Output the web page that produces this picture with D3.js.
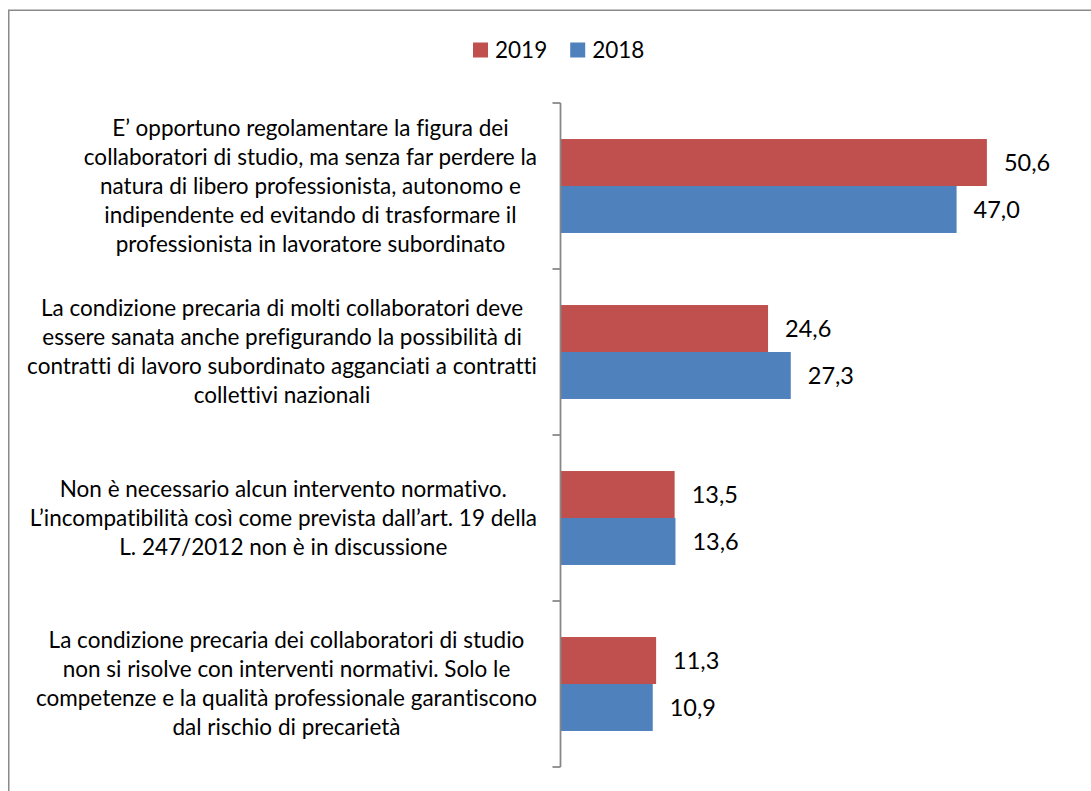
<!DOCTYPE html>
<html>
<head>
<meta charset="utf-8">
<script src="https://cdn.jsdelivr.net/npm/d3@7"></script>
<style>
  body { margin: 0; background: #fff; }
  text { font-family: Lato, "Open Sans", sans-serif; fill: #000; font-variant-ligatures: none; font-feature-settings: "liga" 0, "clig" 0; }
</style>
</head>
<body>
<div id="chart"></div>
<script>
// barre orizzontali 2019 / 2018

const categories = ["c1", "c2", "c3", "c4"];

const labelLines = [
  ["E\u2019 opportuno regolamentare la figura dei",
   "collaboratori di studio, ma senza far perdere la",
   "natura di libero professionista, autonomo e",
   "indipendente ed evitando di trasformare il",
   "professionista in lavoratore subordinato"],
  ["La condizione precaria di molti collaboratori deve",
   "essere sanata anche prefigurando la possibilità di",
   "contratti di lavoro subordinato agganciati a contratti",
   "collettivi nazionali"],
  ["Non è necessario alcun intervento normativo.",
   "L\u2019incompatibilità così come prevista dall\u2019art. 19 della",
   "L. 247/2012 non è in discussione"],
  ["La condizione precaria dei collaboratori di studio",
   "non si risolve con interventi normativi. Solo le",
   "competenze e la qualità professionale garantiscono",
   "dal rischio di precarietà"]
];

const series = ["2019", "2018"];
const values2019 = [50.6, 24.6, 13.5, 11.3];
const values2018 = [47.0, 27.3, 13.6, 10.9];
const colors = ["#C0504D", "#4F81BD"];

var width = 1091;
var height = 791;
var fontSize = 22.5;
var valSize = 23.5;
var lineH = 29;

var svg = d3.select("#chart").append("svg")
    .attr("width", width)
    .attr("height", height);

// cornice (esce dai bordi a destra e in basso)
svg.append("rect")
  .attr("x", 8.75).attr("y", 10.25)
  .attr("width", 1200).attr("height", 1000)
  .attr("fill", "none")
  .attr("stroke", "#8a8a8a")
  .attr("stroke-width", 1.5);

var x = d3.scaleLinear()
    .domain([0, 60])
    .range([561, 1066]);

var y = d3.scaleBand()
    .domain(categories)
    .range([103, 767])
    .paddingInner(0.434)
    .paddingOuter(0.217);

var ys = d3.scaleBand()
    .domain(series)
    .range([0, y.bandwidth()]);

var color = d3.scaleOrdinal().domain(series).range(colors);

var fmt = d3.formatLocale({decimal: ",", thousands: ".", grouping: [3], currency: ["", "€"]}).format(".1f");

var rows = categories.map(function(c, i) {
  return {cat: c, lines: labelLines[i], vals: [values2019[i], values2018[i]]};
});

// barre
var groups = svg.append("g").selectAll("g")
  .data(rows).enter().append("g")
  .attr("transform", function(d) { return "translate(0," + y(d.cat) + ")"; });

groups.selectAll("rect")
  .data(function(d) { return d.vals.map(function(v, k) { return {s: series[k], v: v}; }); })
  .enter().append("rect")
    .attr("x", x(0))
    .attr("y", function(d) { return ys(d.s); })
    .attr("width", function(d) { return x(d.v) - x(0); })
    .attr("height", ys.bandwidth())
    .attr("fill", function(d) { return color(d.s); });

groups.selectAll("text.val")
  .data(function(d) { return d.vals.map(function(v, k) { return {s: series[k], v: v}; }); })
  .enter().append("text")
    .attr("class", "val")
    .attr("x", function(d) { return x(d.v) + 17; })
    .attr("y", function(d) { return ys(d.s) + ys.bandwidth() / 2; })
    .attr("dy", "0.35em")
    .attr("font-size", valSize)
    .text(function(d) { return fmt(d.v); });

// asse verticale con tacche tra le categorie
var axisX = 560.5;
var step = y.step();
var y0 = y.range()[0];
var tickPos = d3.range(categories.length + 1).map(function(i) { return y0 + i * step; });

var axis = svg.append("g")
  .attr("stroke", "#868686")
  .attr("stroke-width", 1.75)
  .attr("fill", "none");
axis.append("line")
  .attr("x1", axisX).attr("x2", axisX)
  .attr("y1", tickPos[0]).attr("y2", tickPos[tickPos.length - 1]);
axis.selectAll("line.tick")
  .data(tickPos).enter().append("line")
  .attr("class", "tick")
  .attr("x1", axisX - 8).attr("x2", axisX)
  .attr("y1", function(d) { return d; }).attr("y2", function(d) { return d; });

// etichette categorie: blocco allineato a destra, righe centrate nel blocco
var labelRight = 537;
rows.forEach(function(r) {
  var g = svg.append("g");
  var cy = y(r.cat) + y.bandwidth() / 2;
  var top = cy - (r.lines.length - 1) * lineH / 2;
  var t = g.selectAll("text").data(r.lines).enter().append("text")
    .attr("font-size", fontSize)
    .attr("text-anchor", "middle")
    .attr("y", function(d, i) { return top + i * lineH; })
    .attr("dy", "0.35em")
    .text(function(d) { return d; });
  var maxW = d3.max(t.nodes(), function(n) { return n.getComputedTextLength(); });
  t.attr("x", labelRight - maxW / 2);
});

// legenda
var legend = svg.append("g").attr("transform", "translate(473,50)");
var lx = 0;
series.forEach(function(s) {
  var item = legend.append("g").attr("transform", "translate(" + lx + ",0)");
  item.append("rect")
    .attr("x", 0).attr("y", -7.5)
    .attr("width", 15).attr("height", 15)
    .attr("fill", color(s));
  var txt = item.append("text")
    .attr("x", 22)
    .attr("dy", "0.35em")
    .attr("font-size", fontSize)
    .text(s);
  lx += 22 + txt.node().getComputedTextLength() + 23;
});
</script>
</body>
</html>
